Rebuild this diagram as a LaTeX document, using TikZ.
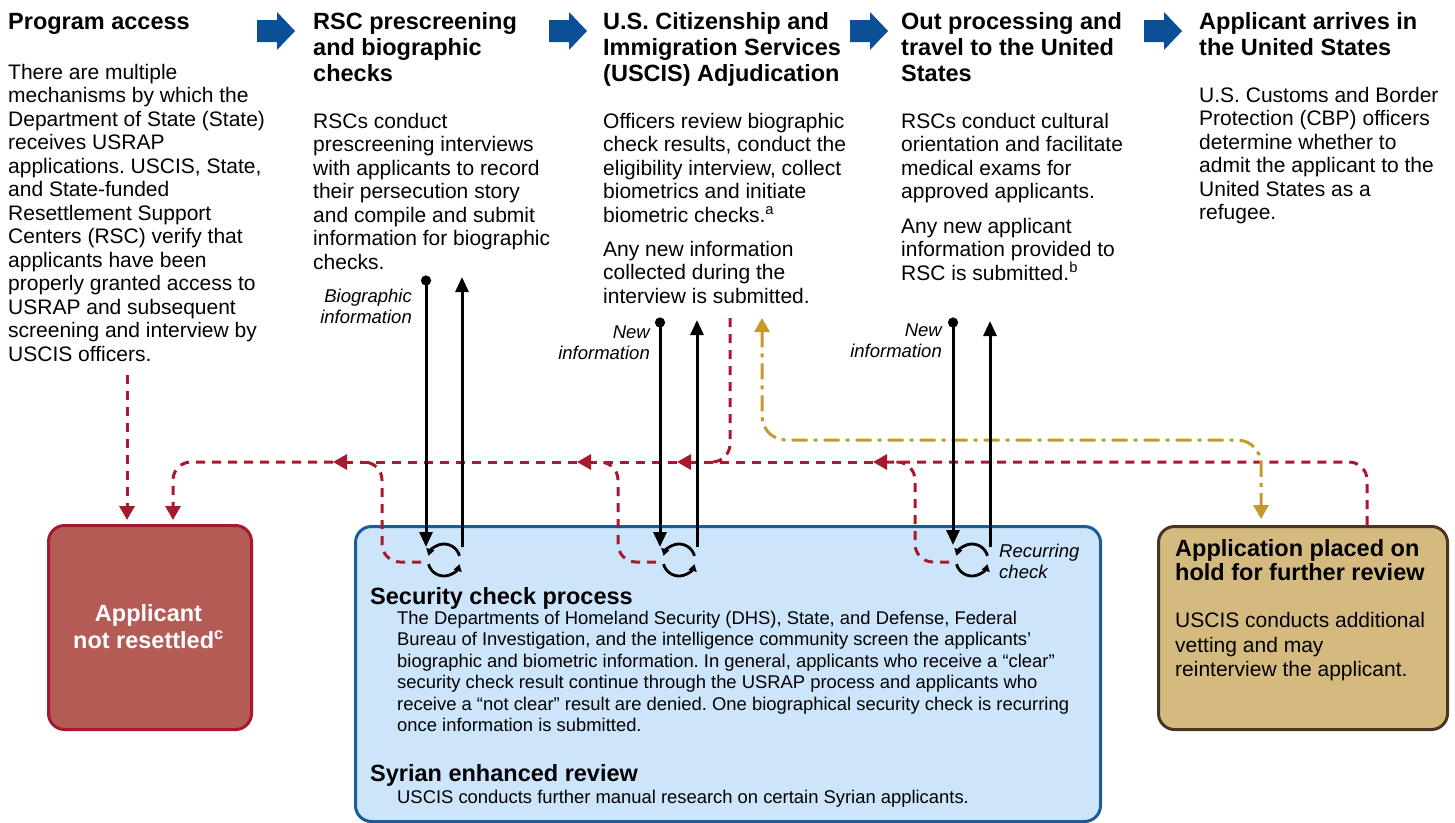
\documentclass[tikz,border=0pt]{standalone}
\usepackage{fontspec}
\setmainfont{Liberation Sans}
\usetikzlibrary{arrows.meta}
\definecolor{arrowblue}{HTML}{0B4F97}
\definecolor{dred}{HTML}{A6192E}
\definecolor{redfill}{HTML}{B55B56}
\definecolor{bluefill}{HTML}{CCE5FB}
\definecolor{blueline}{HTML}{1D5A99}
\definecolor{tanfill}{HTML}{D5BA80}
\definecolor{tanline}{HTML}{4A3523}
\definecolor{golden}{HTML}{C39A2B}
\frenchspacing
\tikzset{
  head/.style={anchor=north west, inner sep=0pt, align=left, font=\fontsize{23.5}{26}\selectfont\bfseries},
  body/.style={anchor=north west, inner sep=0pt, align=left, font=\fontsize{21}{23.5}\selectfont},
  lbl/.style={anchor=north east, inner sep=0pt, align=right, font=\fontsize{18.5}{21}\selectfont\itshape},
  sbody/.style={anchor=north west, inner sep=0pt, align=left, font=\fontsize{18.4}{21.5}\selectfont},
  reddash/.style={draw=dred, line width=3pt, dash pattern=on 9pt off 7pt, rounded corners=18pt},
  redtip/.style={-{Triangle[length=14pt,width=15pt]}},
  golddash/.style={draw=golden, line width=3pt, dash pattern=on 16pt off 6pt on 4pt off 6pt, rounded corners=24pt,
     {Triangle[length=14pt,width=15pt]}-{Triangle[length=14pt,width=15pt]}},
  blkdown/.style={line width=3pt, {Circle[length=10pt]}-{Triangle[length=15pt,width=13pt]}},
  blkup/.style={line width=3pt, -{Triangle[length=15pt,width=13pt]}},
  cyc/.style={circle, minimum size=32pt, inner sep=0pt},
  cycarc/.style={line width=2.8pt, -{Triangle[length=7pt,width=8pt]}},
  bigbox/.style={anchor=north west, line width=3pt, rounded corners=16pt, inner sep=0pt}
}
\begin{document}
\begin{tikzpicture}[x=1pt,y=-1pt]
\useasboundingbox (0,0) rectangle (1455,822);
% step arrows
\foreach \xo in {257,549,850,1144}{
  \fill[arrowblue] (\xo,20) -- (\xo+20,20) -- (\xo+20,12) -- (\xo+38,31) -- (\xo+20,50) -- (\xo+20,42) -- (\xo,42) -- cycle;
}
% column texts
\node[head] (h1) at (8,10.8) {\strut Program access};
\node[body] (t1) at (8,62.5) {\strut There are multiple\\mechanisms by which the\\Department of State (State)\\receives USRAP\\applications. USCIS, State,\\and State-funded\\Resettlement Support\\Centers (RSC) verify that\\applicants have been\\properly granted access to\\USRAP and subsequent\\screening and interview by\\USCIS officers.};
\node[head] (h2) at (313,10.8) {\strut RSC prescreening\\and biographic\\checks};
\node[body] (t2) at (313,111.5) {\strut RSCs conduct\\prescreening interviews\\with applicants to record\\their persecution story\\and compile and submit\\information for biographic\\checks.};
\node[head] (h3) at (603,10.8) {\strut U.S. Citizenship and\\Immigration Services\\(USCIS) Adjudication};
\node[body] (t3) at (603,111.5) {\strut Officers review biographic\\check results, conduct the\\eligibility interview, collect\\biometrics and initiate\\biometric checks.\textsuperscript{a}\\[10.5pt]Any new information\\collected during the\\interview is submitted.};
\node[head] (h4) at (901,10.8) {\strut Out processing and\\travel to the United\\States};
\node[body] (t4) at (901,111.5) {\strut RSCs conduct cultural\\orientation and facilitate\\medical exams for\\approved applicants.\\[11pt]Any new applicant\\information provided to\\RSC is submitted.\textsuperscript{b}};
\node[head] (h5) at (1199,10.8) {\strut Applicant arrives in\\the United States};
\node[body] (t5) at (1199,85.5) {\strut U.S. Customs and Border\\Protection (CBP) officers\\determine whether to\\admit the applicant to the\\United States as a\\refugee.};
% boxes
\node[bigbox, draw=dred, fill=redfill, minimum width=203pt, minimum height=204pt] (nr) at (47,524) {};
\node[align=center, text=white, font=\fontsize{23.5}{27}\selectfont\bfseries] (nrt) at (148.5,627) {Applicant\\not resettled\textsuperscript{c}};
\node[bigbox, draw=blueline, fill=bluefill, minimum width=745pt, minimum height=295pt] (sec) at (354,525) {};
\node[bigbox, draw=tanline, fill=tanfill, minimum width=289pt, minimum height=203pt] (hold) at (1157,525) {};
\node[head, font=\fontsize{23.5}{24.5}\selectfont\bfseries] (holdh) at (1175,539) {\strut Application placed on\\hold for further review};
\node[body, font=\fontsize{21}{24.5}\selectfont] (holdt) at (1175,610.5) {\strut USCIS conducts additional\\vetting and may\\reinterview the applicant.};
% security box text
\node[head] (sech) at (370,585.8) {\strut Security check process};
\node[sbody] (sect) at (397,609) {\strut The Departments of Homeland Security (DHS), State, and Defense, Federal\\Bureau of Investigation, and the intelligence community screen the applicants'\\biographic and biometric information. In general, applicants who receive a “clear”\\security check result continue through the USRAP process and applicants who\\receive a “not clear” result are denied. One biographical security check is recurring\\once information is submitted.};
\node[head] (syrh) at (370,762.8) {\strut Syrian enhanced review};
\node[sbody] (syrt) at (397,788) {\strut USCIS conducts further manual research on certain Syrian applicants.};
% cycles
\foreach \n/\cx in {c1/444,c2/679,c3/972}{
  \node[cyc] (\n) at (\cx,560) {};
  \draw[cycarc] ([shift={(15:16pt)}]\n.center) arc[start angle=15,end angle=165,radius=16pt];
  \draw[cycarc] ([shift={(195:16pt)}]\n.center) arc[start angle=195,end angle=345,radius=16pt];
}
\node[anchor=north west, inner sep=0pt, align=left, font=\fontsize{18.5}{21}\selectfont\itshape] (rc) at (999,543) {\strut Recurring\\check};
% labels
\node[lbl] (l1) at (412,287.5) {\strut Biographic\\information};
\node[lbl] (l2) at (650,323.5) {\strut New\\information};
\node[lbl] (l3) at (942,321.5) {\strut New\\information};
% coordinates
\coordinate (a1s) at (426,275.5); \coordinate (a1e) at (426,547);
\coordinate (u1s) at (462,547);   \coordinate (u1e) at (462,277);
\coordinate (a2s) at (660,317.5); \coordinate (a2e) at (660,547);
\coordinate (u2s) at (697,547);   \coordinate (u2e) at (697,320);
\coordinate (a3s) at (953,317.5); \coordinate (a3e) at (953,545);
\coordinate (u3s) at (990,547);   \coordinate (u3e) at (990,321);
\coordinate (h0) at (1367,525);
\coordinate (m1) at (873,462); \coordinate (m2) at (677,462);
\coordinate (m3) at (577,462); \coordinate (m4) at (333,462);
\coordinate (nr2) at (173,520);
\coordinate (d1) at (127,375); \coordinate (nr1) at (127,520);
\coordinate (b1) at (421,562); \coordinate (k1) at (382,562); \coordinate (j1) at (360,462);
\coordinate (b2) at (656,562); \coordinate (k2) at (618,562); \coordinate (j2) at (596,462);
\coordinate (b3) at (949,562); \coordinate (k3) at (915,562); \coordinate (j3) at (893,462);
\coordinate (d3) at (730,318); \coordinate (j4) at (706,462);
\coordinate (g1) at (762,318); \coordinate (gm) at (1000,440); \coordinate (g2) at (1261,519);
% red dashed connectors
\draw[reddash, redtip] (h0) |- (m1);
\draw[reddash, redtip] (m1) -- (m2);
\draw[reddash, redtip] (m2) -- (m3);
\draw[reddash, redtip] (m3) -- (m4);
\draw[reddash, redtip] (m4) -| (nr2);
\draw[reddash, redtip] (d1) -- (nr1);
\draw[reddash] (b1) -- (k1) |- (j1);
\draw[reddash] (b2) -- (k2) |- (j2);
\draw[reddash] (b3) -- (k3) |- (j3);
\draw[reddash] (d3) |- (j4);
% gold
\draw[golddash] (g1) |- (gm) -| (g2);
% black arrows
\draw[blkdown] (a1s) -- (a1e);
\draw[blkup] (u1s) -- (u1e);
\draw[blkdown] (a2s) -- (a2e);
\draw[blkup] (u2s) -- (u2e);
\draw[blkdown] (a3s) -- (a3e);
\draw[blkup] (u3s) -- (u3e);
\end{tikzpicture}
\end{document}
